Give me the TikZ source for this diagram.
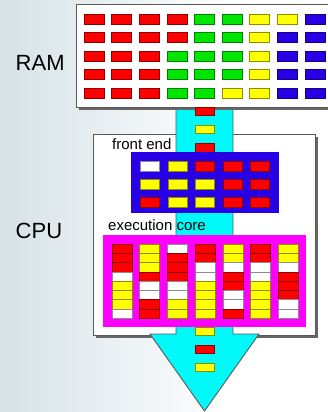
\documentclass[tikz,border=0pt]{standalone}
\usepackage{fontspec}
\setmainfont{Liberation Sans}
\definecolor{cR}{RGB}{255,0,0}
\definecolor{cG}{RGB}{0,230,0}
\definecolor{cY}{RGB}{255,255,0}
\definecolor{cB}{RGB}{40,0,230}
\definecolor{cW}{RGB}{255,255,255}
\definecolor{cyanA}{RGB}{0,250,250}
\definecolor{magA}{RGB}{255,0,255}
\definecolor{blueBox}{RGB}{40,0,230}
\definecolor{bgL}{RGB}{214,226,231}
\definecolor{edgeG}{RGB}{90,90,90}
\newcommand\mycell[5]{%
  \pgfmathsetmacro\cxa{#1-#4/2}\pgfmathsetmacro\cxb{#1+#4/2}%
  \pgfmathsetmacro\cya{#2-#5/2}\pgfmathsetmacro\cyb{#2+#5/2}%
  \filldraw[line width=0.45pt, fill=#3, draw=#3!55!black] (\cxa,\cya) rectangle (\cxb,\cyb);}
\tikzset{
  panel/.style={fill=white, draw=edgeG, line width=0.8pt},
  shadowbox/.style={fill=black!60},
  lbl/.style={inner sep=0pt, anchor=base west, font=\fontsize{15}{15}\selectfont},
  biglbl/.style={inner sep=0pt, anchor=base west, font=\fontsize{22}{22}\selectfont, text=black},
  arrowshape/.style={fill=cyanA, draw=edgeG, line width=0.9pt, line join=miter}
}
\begin{document}
\begin{tikzpicture}[x=1pt,y=-1pt]
\useasboundingbox (0,0) rectangle (327,412);
% background
\shade[left color=bgL, right color=white] (0,0) rectangle (230,412);
\fill[white] (229.5,0) rectangle (327,412);
% labels
\node[biglbl] (ram) at (15.5,70.5) {RAM};
\node[biglbl] (cpu) at (15.5,238.5) {CPU};
% CPU box
\fill[shadowbox] (95.5,136.5) rectangle (317.5,337.5);
\filldraw[panel] (93,134) rectangle (315,335);
% arrow
\filldraw[arrowshape] (176,100) -- (176,334) -- (150,334) -- (204.5,411) -- (259,334) -- (233,334) -- (233,100) -- cycle;
% RAM box
\fill[shadowbox] (78.5,6.5) rectangle (340,109.5);
\filldraw[panel] (76,4) rectangle (340,107);
\foreach \row [count=\r] in {
  {cR,cR,cR,cR,cG,cG,cY,cY,cB},
  {cR,cR,cR,cR,cG,cG,cY,cB,cB},
  {cR,cR,cR,cG,cG,cG,cY,cB,cB},
  {cR,cR,cR,cG,cG,cG,cY,cB,cB},
  {cR,cR,cR,cG,cG,cY,cY,cB,cB}} {
  \foreach \c [count=\k] in \row {
    \mycell{94+27.6*(\k-1)}{19+18.5*(\r-1)}{\c}{20}{10}
  }
}
% shaft cells
\mycell{204.5}{111}{cR}{19}{8}
\mycell{204.5}{129.5}{cY}{19}{8}
\mycell{204.5}{148}{cR}{19}{9}
\mycell{204.5}{331}{cY}{19}{8}
\mycell{204.5}{349}{cR}{19}{8}
\mycell{204.5}{367.5}{cY}{19}{8}
% front end
\node[lbl] (fe) at (112,149) {front end};
\fill[blueBox] (131,152) rectangle (279,213);
\foreach \row [count=\r] in {
  {cW,cY,cR,cR,cR},
  {cY,cY,cY,cR,cR},
  {cR,cY,cY,cR,cR}} {
  \foreach \c [count=\k] in \row {
    \mycell{150+27.5*(\k-1)}{166+18*(\r-1)}{\c}{19}{9.5}
  }
}
% execution core
\node[lbl] (ec) at (108,230) {execution core};
\fill[magA] (103,235) rectangle (306,327);
\foreach \col [count=\k] in {
  {cR,cR,cR,cW,cY,cY,cY,cW},
  {cY,cY,cY,cR,cW,cW,cR,cR},
  {cW,cR,cR,cR,cW,cW,cY,cY},
  {cR,cR,cW,cW,cY,cY,cY,cY},
  {cY,cY,cW,cR,cR,cW,cW,cR},
  {cR,cR,cW,cW,cY,cY,cY,cY},
  {cY,cY,cW,cR,cR,cR,cW,cW}} {
  \foreach \c [count=\r] in \col {
    \mycell{122+27.7*(\k-1)}{244+9.25*(\r-0.5)}{\c}{20}{9.25}
  }
}
\end{tikzpicture}
\end{document}
